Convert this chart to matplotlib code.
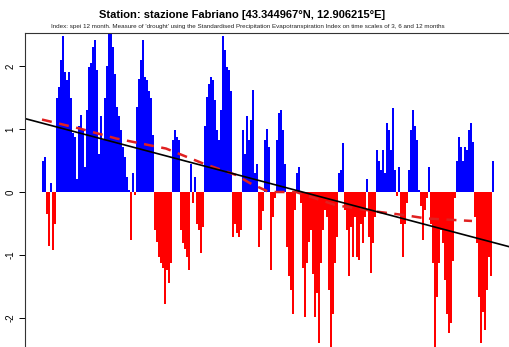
import matplotlib
matplotlib.use("Agg")
import matplotlib.pyplot as plt
import numpy as np

# SPEI-12 values (sequential time steps)
spei = [
    0.5, 0.55, -0.35, -0.85, 0.15, -0.92, -0.5, 1.5, 1.67, 2.1,
    2.47, 1.9, 1.78, 1.9, 1.5, 0.93, 0.88, 0.2, 1.04, 1.22,
    0.98, 0.4, 1.3, 1.99, 2.04, 2.3, 2.41, 1.94, 0.6, 1.2,
    0.83, 1.5, 2.0, 2.6, 2.6, 2.3, 1.88, 1.35, 1.2, 0.98,
    0.72, 0.56, 0.24, 0.03, -0.76, 0.3, -0.05, 1.35, 1.8, 2.1,
    2.41, 1.83, 1.78, 1.6, 1.5, 0.9, -0.6, -0.8, -1.03, -1.13,
    -1.21, -1.77, -1.24, -1.45, -1.13, 0.83, 0.98, 0.88, 0.83, -0.6,
    -0.81, -0.9, -1.03, -1.24, 0.45, -0.18, 0.24, -0.5, -0.6, -0.97,
    -0.56, 1.04, 1.51, 1.72, 1.83, 1.78, 1.46, 0.98, 0.83, 1.3,
    2.47, 2.25, 1.99, 1.94, 1.6, -0.71, -0.5, -0.65, -0.71, -0.6,
    0.98, 0.6, 1.2, 0.83, 1.14, 1.62, 0.3, 0.45, -0.87, -0.6,
    -0.3, 0.83, 1.0, 0.72, -1.24, -0.4, -0.1, 0.83, 1.25, 1.3,
    0.98, 0.45, -0.87, -1.34, -1.56, -1.93, -0.29, 0.3, 0.4, -0.18,
    -1.2, -1.98, -1.13, -0.8, -0.6, -1.3, -1.98, -1.6, -2.4, -1.13,
    -0.6, -0.29, -0.4, -1.56, -2.46, -1.93, -1.13, -0.71, 0.3, 0.35,
    0.77, -0.29, -0.6, -1.34, -0.55, -1.03, -0.4, -1.03, -1.08, -0.5,
    -0.81, -0.4, 0.2, -0.71, -1.29, -0.81, -0.4, 0.67, 0.5, 0.35,
    0.67, 0.3, 1.09, 0.98, 0.67, 1.33, 0.35, -0.07, 0.4, -0.5,
    -1.03, -0.5, -0.18, 0.35, 0.98, 1.3, 1.04, 0.83, 0.03, -0.23,
    -0.76, -0.29, -0.1, 0.4, -0.5, -1.13, -2.46, -1.66, -1.13, -0.6,
    -0.81, -1.4, -1.93, -2.24, -2.08, -1.1, -0.1, 0.5, 0.88, 0.72,
    0.5, 0.72, 0.67, 0.98, 1.09, 0.8, -0.4, -0.81, -1.66, -2.4,
    -1.9, -2.19, -1.56, -1.03, -1.34, 0.5,
]

# smoothed trend (red dashed), at time-step positions
smooth_t = [0, 18.5, 37, 62, 80, 97, 104, 113.5, 127, 147, 167, 182, 192, 215]
smooth_v = [1.15, 1.01, 0.85, 0.69, 0.46, 0.27, 0.14, 0.0, 0.0, -0.21, -0.31, -0.37, -0.42, -0.46]

# linear trend (black line): value at step 0 and slope per step
lin_intercept = 1.094
lin_slope = -0.0084

yticks = [-2, -1, 0, 1, 2]
title = "Station: stazione Fabriano [43.344967°N, 12.906215°E]"
subtitle = ("Index: spei 12 month. Measure of 'drought' using the Standardised "
            "Precipitation Evapotranspiration Index on time scales of 3, 6 and 12 months")

W, H = 510, 347
fig = plt.figure(figsize=(W / 100, H / 100), dpi=100)
left_px, right_px, top_px, bot_px = 25, 540, 33, 362
ax = fig.add_axes([left_px / W, 1 - bot_px / H, (right_px - left_px) / W, (bot_px - top_px) / H])

vals = np.array(spei)
t = np.arange(len(vals))
colors = np.where(vals >= 0, "#0000FF", "#FF0000")
ax.bar(t, vals, width=1.0, color=colors, linewidth=0, align="edge")

ax.plot(smooth_t, smooth_v, color="#E02020", lw=1.8, ls=(0, (4, 3)))
ax.axline((0, lin_intercept), slope=lin_slope, color="black", lw=1.2)

ax.set_xlim((left_px - 42) / 2, (right_px - 42) / 2)
ax.set_ylim((192 - bot_px) / 63, (192 - top_px) / 63)
ax.set_yticks(yticks)
ax.set_yticklabels([str(v) for v in yticks], rotation=90, va="center",
                   fontsize=7, family="Liberation Sans")
ax.tick_params(axis="y", length=4, width=0.7, pad=3)
ax.set_xticks([])
for s in ax.spines.values():
    s.set_linewidth(0.8)
    s.set_color("#333333")

fig.text(242 / W, 1 - 15 / H, title, ha="center", va="center",
         fontsize=8.0, fontweight="bold", family="Liberation Sans")
fig.text(248 / W, 1 - 26.5 / H, subtitle, ha="center", va="center",
         fontsize=4.5, family="Liberation Sans", color="#222222")

fig.savefig("out.png", dpi=100)
